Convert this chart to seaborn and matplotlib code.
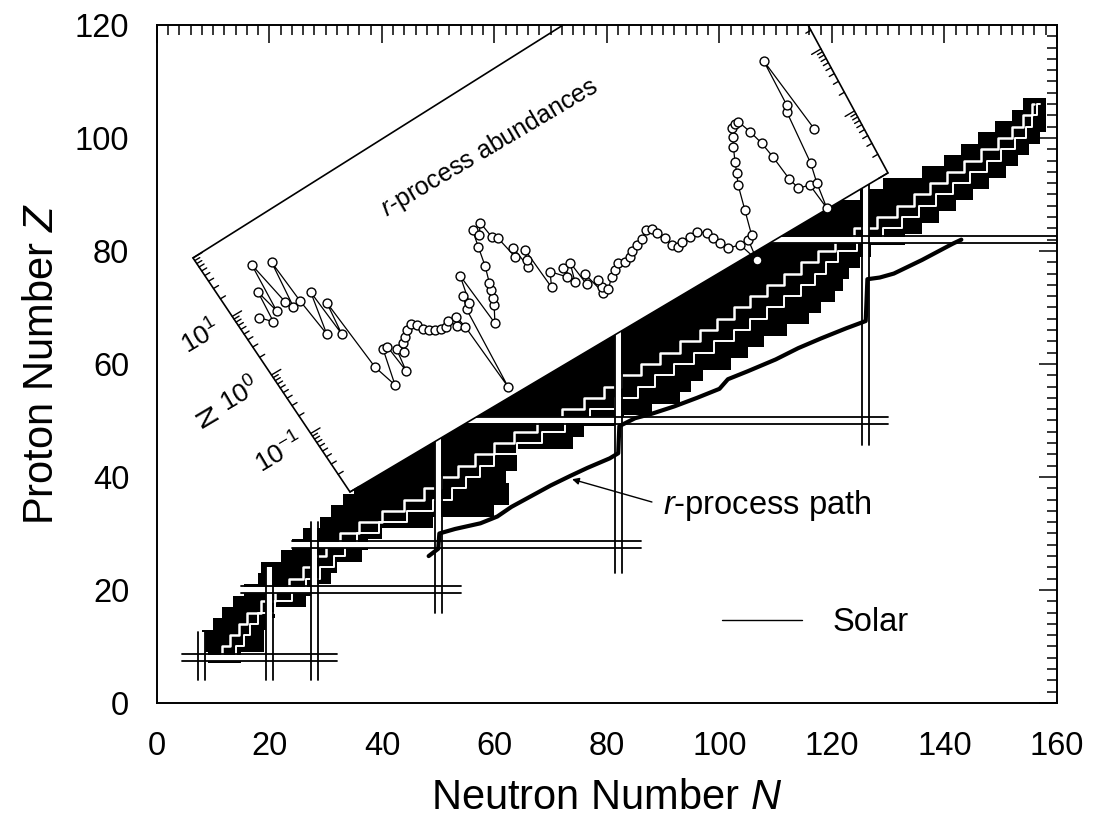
import numpy as np
import matplotlib
matplotlib.use("Agg")
import matplotlib.pyplot as plt
from matplotlib.transforms import Affine2D
from matplotlib.patches import Polygon
from matplotlib.lines import Line2D
from matplotlib.ticker import MultipleLocator
import seaborn as sns

sns.set_style("white")
plt.rcParams["font.family"] = ["Liberation Sans", "DejaVu Sans"]
plt.rcParams["mathtext.fontset"] = "custom"
plt.rcParams["mathtext.rm"] = "Liberation Sans"
plt.rcParams["mathtext.it"] = "Liberation Sans:italic"
plt.rcParams["mathtext.bf"] = "Liberation Sans:bold"
for key in ("text.color", "axes.labelcolor", "xtick.color", "ytick.color", "axes.edgecolor"):
    plt.rcParams[key] = "black"

# ---------------- known nuclei: one row per even Z (2 units tall) ----------------
band_Z = [8, 10, 12, 14, 16, 18, 20, 22, 24, 26, 28, 30, 32, 34, 36, 38, 40, 42, 44, 46,
          48, 50, 52, 54, 56, 58, 60, 62, 64, 66, 68, 70, 72, 74, 76, 78, 80, 82, 84, 86,
          88, 90, 92, 94, 96, 98, 100, 102, 104, 106]
band_Nlo = [9, 8, 8, 10, 11.5, 13.5, 15.5, 18, 18.5, 22, 24, 26, 29, 31, 33, 35, 35, 37, 40, 43,
            46, 50, 53, 56, 59, 63, 66, 70, 73, 76, 80, 83, 86, 90, 93, 96, 100, 103, 106, 110,
            113, 125, 129, 136, 140, 143, 146, 149, 152, 154]
band_Nhi = [15, 19, 19, 19.5, 21, 26.5, 28, 31, 32, 36.5, 37.5, 40, 49, 60, 62.5, 62.5, 62, 64, 64, 74,
            76, 83, 88, 93, 95, 97, 102, 105, 108, 112, 116, 118, 120.5, 122, 123, 125, 127, 133, 136, 139,
            142, 145, 148, 151, 153, 155, 157, 158, 158, 158]
# valley of stability and a neutron-rich gap, drawn as white staircases through the band
valley_N = [11, 12, 14, 15, 17, 20, 22, 25, 27, 29, 31, 34, 38, 42, 46, 49, 52, 55, 58, 62,
            65, 70, 74, 78, 81, 84, 88, 91, 95, 98, 101, 104, 107, 110, 113, 116, 119, 122, 126, 130,
            133, 136, 139, 142, 145, 148, 151, 153, 155, 156]
gap_N = [13, 15, 16, 17, 19, 23, 25, 28, 30, 33, 34, 37, 42, 47, 51, 54, 56, 59, 61, 67,
         70, 75, 79, 84, 87, 90, 94, 97, 101, 104, 107, 110, 113, 116, 118, 120, 122, 127, 131, 134,
         137, 140, 143, 146, 149, 151, 154, 155, 156, 157]

# ---------------- closed shells (magic numbers) ----------------
magic_Z = [8, 20, 28, 50, 82]
magic_Z_from = [4.4, 15, 24, 50, 105]
magic_Z_to = [32, 54, 86, 130, 160]
magic_N = [8, 20, 28, 50, 82, 126]
magic_N_from = [4, 4, 4, 16, 23, 45.6]
magic_N_to = [12.5, 24, 32, 55, 70, 96]

# ---------------- r-process path ----------------
path_N = [48.3, 50.0, 50.2, 53.0, 57.5, 60.5, 63.0, 66.5, 70.0, 73.5, 76.5, 80.5, 82.0, 82.2,
          85.0, 88.0, 92.0, 96.0, 100.0, 101.5, 105.0, 110.0, 114.0, 118.0, 122.5, 126.0,
          126.3, 128.5, 131.0, 136.0, 141.5, 143.0]
path_Z = [26.0, 27.3, 30.0, 30.8, 31.8, 33.0, 34.7, 36.6, 38.5, 40.2, 41.6, 43.3, 44.2, 49.0,
          50.4, 51.2, 52.5, 54.0, 55.6, 57.3, 58.7, 60.8, 62.8, 64.5, 66.3, 67.6,
          75.0, 75.3, 76.0, 78.4, 81.3, 82.0]

# ---------------- solar r-process abundances (inset) ----------------
abund_A = [73.2, 75.5, 76.4, 77.6, 78.8, 80.5, 81.5, 83.1, 83.6, 84.5, 86.9, 87.5, 88.7, 89.7,
           91.3, 93.7, 94.9, 95.4, 96.4, 97.6, 98.5, 99.8, 101.0, 102.6, 103.7, 104.4, 105.5,
           106.6, 107.9, 109.3, 110.5, 111.5, 112.6, 113.1, 113.6, 115.7, 116.8, 117.1, 118.9,
           119.5, 121.8, 122.5, 123.1, 123.8, 125.2, 126.4, 127.5, 128.2, 130.0, 130.4, 131.5,
           132.4, 133.2, 133.7, 134.3, 135.3, 135.6, 137.4, 140.0, 140.5, 141.0, 142.6, 143.0,
           144.0, 145.2, 145.7, 145.9, 146.7, 149.0, 150.6, 152.1, 153.7, 155.3, 156.5, 158.3,
           160.0, 162.2, 163.3, 163.8, 164.8, 165.2, 166.3, 167.7, 170.0, 172.0, 173.8, 174.4,
           175.1, 176.1, 178.9, 180.2, 181.2, 182.5, 184.5, 186.5, 187.8, 189.0, 190.7, 192.0,
           192.8, 194.0, 195.0, 196.0, 196.8, 197.2, 197.5, 198.1, 200.8, 201.1, 202.5, 203.9,
           206.0, 206.9, 208.2, 209.2]
abund_N = [6.17, 4.32, 12.8, 5.61, 30.8, 6.28, 4.75, 23.6, 5.04, 1.26, 5.33, 0.982, 3.05, 0.221,
           0.0959, 0.318, 0.321, 0.119, 0.255, 0.211, 0.270, 0.316, 0.372, 0.411, 0.362, 0.287, 0.255,
           0.232, 0.215, 0.211, 0.241, 0.180, 0.237, 0.154, 0.0136, 0.244, 0.376, 0.277, 0.698,
           0.103, 0.175, 0.214, 0.282, 0.354, 0.610, 1.17, 2.06, 1.60, 2.24, 1.24, 1.06,
           0.480, 0.625, 0.290, 0.360, 0.490, 0.110, 0.175, 0.115, 0.155, 0.0871, 0.162, 0.0667,
           0.0916, 0.0399, 0.0485, 0.0619, 0.0404, 0.0543, 0.0621, 0.0710, 0.0664, 0.0703, 0.0809, 0.0875,
           0.0944, 0.113, 0.106, 0.0871, 0.0661, 0.0488, 0.0416, 0.0453, 0.0454, 0.0467, 0.0378, 0.0294,
           0.0229, 0.0173, 0.0156, 0.00776, 0.0156, 0.0170, 0.0384, 0.0869, 0.124, 0.177, 0.277, 0.368,
           0.479, 0.512, 0.516, 0.321, 0.190, 0.107, 0.0443, 0.0290, 0.0262, 0.0103, 0.0250, 0.0478,
           0.305, 0.368, 1.87, 0.117]
abund_decades = [-2, -1, 0, 1, 2]
abund_tick_labels = {1: r"$10^{1}$", 0: r"$10^{0}$", -1: r"$10^{-1}$"}

x_ticks = [0, 20, 40, 60, 80, 100, 120, 140, 160]
y_ticks = [0, 20, 40, 60, 80, 100, 120]

# ---------------- figure ----------------
fig = plt.figure(figsize=(10.97, 8.18), dpi=100)
ax = fig.add_axes([0.1431, 0.1406, 0.8204, 0.8289])
ax.set_xlim(0, 160)
ax.set_ylim(0, 120)

# band of known nuclei
ax.barh(band_Z, width=np.subtract(band_Nhi, band_Nlo), left=band_Nlo, height=2.0,
        color="black", linewidth=0, zorder=2)
ax.plot(valley_N, band_Z, drawstyle="steps-mid", color="white", lw=1.8, zorder=2.2)
ax.plot(gap_N, band_Z, drawstyle="steps-mid", color="white", lw=1.4, zorder=2.2)

# magic numbers: double lines
half = 0.62
for z, n0, n1 in zip(magic_Z, magic_Z_from, magic_Z_to):
    ax.plot([n0, n1], [z, z], color="white", lw=4.5, solid_capstyle="butt", zorder=3)
for n, z0, z1 in zip(magic_N, magic_N_from, magic_N_to):
    ax.plot([n, n], [z0, z1], color="white", lw=4.5, solid_capstyle="butt", zorder=3)
for z, n0, n1 in zip(magic_Z, magic_Z_from, magic_Z_to):
    for s in (-half, half):
        ax.plot([n0, n1], [z + s, z + s], color="black", lw=1.3, zorder=3.1)
for n, z0, z1 in zip(magic_N, magic_N_from, magic_N_to):
    for s in (-half, half):
        ax.plot([n + s, n + s], [z0, z1], color="black", lw=1.3, zorder=3.1)

# r-process path
sns.lineplot(x=path_N, y=path_Z, sort=False, estimator=None, color="black", lw=3.0,
             ax=ax, zorder=4)

# ---------------- inset frame, tilted along the band ----------------
A0, A1 = 68.0, 218.0          # mass-number range along the long edge
L0, L1 = -2.0, 2.0            # log10 abundance range across
corner = np.array([34.31, 37.35])     # lower corner in (N, Z)
edge_u = np.array([95.64, 56.46])     # long edge in (N, Z)
edge_v = np.array([-27.91, 41.42])    # short edge in (N, Z)
top_corner = np.array([104.7, 140.35])  # far corner (outside the frame)
m00, m01 = edge_u[0] / (A1 - A0), edge_v[0] / (L1 - L0)
m10, m11 = edge_u[1] / (A1 - A0), edge_v[1] / (L1 - L0)
mat = np.array([[m00, m01, corner[0] - A0 * m00 - L0 * m01],
                [m10, m11, corner[1] - A0 * m10 - L0 * m11],
                [0.0, 0.0, 1.0]])
inset_tf = Affine2D(mat) + ax.transData

right_corner = corner + edge_u
left_corner = corner + edge_v
box = Polygon([corner, right_corner, top_corner, left_corner], closed=True,
              facecolor="white", edgecolor="black", lw=1.2, zorder=5)
ax.add_patch(box)

# log ticks on both short edges, pointing inwards
u_hat = edge_u / np.linalg.norm(edge_u)
r_dir = (top_corner - right_corner) / np.linalg.norm(top_corner - right_corner)
v_len = np.linalg.norm(edge_v)
for d in abund_decades:
    for k in range(1, 10):
        t = d + np.log10(k)
        if t > L1 + 1e-9:
            continue
        ln = 2.6 if k == 1 else 1.4
        ax.plot([A0, A0 + ln], [t, t], color="black", lw=1.0, transform=inset_tf, zorder=6)
        p = right_corner + r_dir * v_len * (t - L0) / (L1 - L0)
        q = p - u_hat * ln * np.linalg.norm(edge_u) / (A1 - A0)
        ax.plot([p[0], q[0]], [p[1], q[1]], color="black", lw=1.0, zorder=6)

sns.lineplot(x=abund_A, y=np.log10(abund_N), sort=False, estimator=None, color="black",
             lw=0.9, marker="o", markersize=6.4, markerfacecolor="white",
             markeredgecolor="black", markeredgewidth=1.0, ax=ax, transform=inset_tf, zorder=6)

ax.set_xlim(0, 160)
ax.set_ylim(0, 120)

# orientation of the inset on screen
p0 = ax.transData.transform(corner)
p1 = ax.transData.transform(right_corner)
ang = np.degrees(np.arctan2(p1[1] - p0[1], p1[0] - p0[0]))

for d, lab in abund_tick_labels.items():
    ax.text(59.0, d - 0.02, lab, transform=inset_tf, rotation=ang, rotation_mode="anchor",
            ha="center", va="center", fontsize=19, zorder=6)
ax.text(50.0, 0.0, "N", transform=inset_tf, rotation=ang + 90, rotation_mode="anchor",
        ha="center", va="center", fontsize=20, zorder=6)
ax.text(142.0, 1.2, r"$r$-process abundances", transform=inset_tf, rotation=ang,
        rotation_mode="anchor", ha="center", va="center", fontsize=18, zorder=6)

# annotations
ax.annotate(r"$r$-process path", xy=(73.8, 39.6), xytext=(90.0, 35.0), fontsize=23.5,
            ha="left", va="center", zorder=4,
            arrowprops=dict(arrowstyle="-|>", color="black", lw=1.0, mutation_scale=10,
                            shrinkA=6, shrinkB=0, relpos=(0, 0.5)))
ax.legend(handles=[Line2D([], [], color="black", lw=1.0)], labels=["Solar"],
          loc="center left", bbox_to_anchor=(0.628, 0.118), frameon=False, fontsize=23.5,
          handlelength=2.45, handletextpad=0.92, borderpad=0, borderaxespad=0)

# axes styling
ax.set_xticks(x_ticks)
ax.set_yticks(y_ticks)
ax.xaxis.set_minor_locator(MultipleLocator(2))
ax.yaxis.set_minor_locator(MultipleLocator(2))
ax.tick_params(which="both", direction="in", top=True, right=True, labelsize=23.5, pad=20,
               color="black", labelcolor="black")
ax.tick_params(which="major", length=13, width=1.1)
ax.tick_params(which="minor", length=7.5, width=1.1)
for sp in ax.spines.values():
    sp.set_linewidth(1.4)
    sp.set_color("black")
    sp.set_zorder(10)
ax.xaxis.set_zorder(10)
ax.yaxis.set_zorder(10)

ax.set_xlabel("Neutron Number $N$", fontsize=30)
ax.set_ylabel("Proton Number $Z$", fontsize=30)
ax.xaxis.set_label_coords(0.5, -0.11)
ax.yaxis.set_label_coords(-0.105, 0.5)

fig.savefig("out.png", dpi=100, facecolor="white")
